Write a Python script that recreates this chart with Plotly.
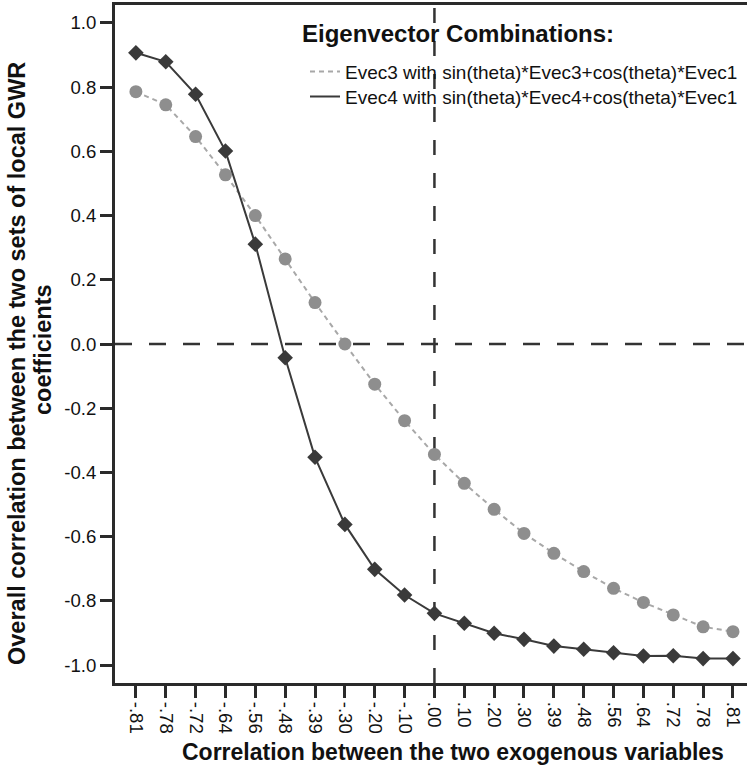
import plotly.graph_objects as go

categories = ["-.81", "-.78", "-.72", "-.64", "-.56", "-.48", "-.39", "-.30", "-.20", "-.10",
              ".00", ".10", ".20", ".30", ".39", ".48", ".56", ".64", ".72", ".78", ".81"]

evec3 = [0.786, 0.745, 0.646, 0.527, 0.400, 0.265, 0.129, 0.000, -0.125, -0.239,
         -0.344, -0.434, -0.515, -0.590, -0.652, -0.709, -0.761, -0.805, -0.844, -0.881, -0.896]

evec4 = [0.907, 0.879, 0.778, 0.601, 0.311, -0.043, -0.353, -0.562, -0.702, -0.782,
         -0.839, -0.870, -0.901, -0.920, -0.941, -0.951, -0.962, -0.972, -0.971, -0.980, -0.980]

series_names = ["Evec3 with sin(theta)*Evec3+cos(theta)*Evec1",
                "Evec4 with sin(theta)*Evec4+cos(theta)*Evec1"]

y_tickvals = [1.0, 0.8, 0.6, 0.4, 0.2, 0.0, -0.2, -0.4, -0.6, -0.8, -1.0]
y_ticktext = ["1.0", "0.8", "0.6", "0.4", "0.2", "0.0", "-0.2", "-0.4", "-0.6", "-0.8", "-1.0"]

FONT = "Liberation Sans, Arial, Helvetica, sans-serif"
DARK = "#3a3a3a"
GRAY_M = "#8e8e8e"
GRAY_L = "#a8a8a8"
TXT = "#111111"

fig = go.Figure()

fig.add_trace(go.Scatter(
    x=categories, y=evec3, mode="lines+markers", showlegend=False,
    line=dict(color=GRAY_L, width=2, dash="5px,4px"),
    marker=dict(symbol="circle", size=13, color=GRAY_M),
))
fig.add_trace(go.Scatter(
    x=categories, y=evec4, mode="lines+markers", showlegend=False,
    line=dict(color=DARK, width=2),
    marker=dict(symbol="diamond", size=12, color=DARK),
))

# legend-only entries (line samples), one legend each for exact placement
fig.add_trace(go.Scatter(
    x=[None], y=[None], mode="lines", name=series_names[0], legend="legend",
    line=dict(color=GRAY_L, width=2, dash="5px,4px"),
))
fig.add_trace(go.Scatter(
    x=[None], y=[None], mode="lines", name=series_names[1], legend="legend2",
    line=dict(color=DARK, width=2),
))

# reference lines
fig.add_hline(y=0, line=dict(color="#333333", width=2.5, dash="17px,17px"), layer="below")
fig.add_vline(x=categories.index(".00"), line=dict(color="#333333", width=2.5, dash="15px,18px"),
              layer="below")

# legend heading
fig.add_annotation(
    text="<b>Eigenvector Combinations:</b>", xref="paper", yref="paper",
    x=(300 - 115) / 632, y=(683 - 33) / 678, xanchor="left", yanchor="middle", showarrow=False,
    font=dict(family=FONT, size=24, color=TXT),
)

# axis titles
fig.add_annotation(
    text="<b>Correlation between the two exogenous variables</b>", xref="paper", yref="paper",
    x=(453 - 115) / 632, y=(683 - 752) / 678, xanchor="center", yanchor="middle", showarrow=False,
    font=dict(family=FONT, size=23, color=TXT),
)
fig.add_annotation(
    text="<b>Overall correlation between the two sets of local GWR</b>", xref="paper", yref="paper",
    x=(16.5 - 115) / 632, y=(683 - 363.5) / 678, xanchor="center", yanchor="middle", showarrow=False,
    textangle=-90, font=dict(family=FONT, size=23.5, color=TXT),
)
fig.add_annotation(
    text="<b>coefficients</b>", xref="paper", yref="paper",
    x=(43 - 115) / 632, y=(683 - 350) / 678, xanchor="center", yanchor="middle", showarrow=False,
    textangle=-90, font=dict(family=FONT, size=23.5, color=TXT),
)

legend_common = dict(
    xanchor="left", yanchor="middle", bgcolor="rgba(0,0,0,0)",
    font=dict(family=FONT, size=19, color=TXT),
)

fig.update_layout(
    width=747, height=765,
    margin=dict(l=115, r=0, t=5, b=82),
    paper_bgcolor="white", plot_bgcolor="white",
    font=dict(family=FONT, color=TXT),
    showlegend=True,
    legend=dict(x=(305 - 115) / 632, y=(683 - 71.7) / 678, **legend_common),
    legend2=dict(x=(305 - 115) / 632, y=(683 - 96.7) / 678, **legend_common),
    xaxis=dict(
        type="category", categoryorder="array", categoryarray=categories,
        range=[-0.7, 20.47],
        showgrid=False, zeroline=False,
        showline=True, linecolor="#2a2a2a", linewidth=3, mirror=True,
        ticks="outside", ticklen=12, tickwidth=3, tickcolor="#2a2a2a",
        tickangle=90, tickfont=dict(family=FONT, size=18.6, color=TXT),
    ),
    yaxis=dict(
        range=[-1.056, 1.056],
        tickvals=y_tickvals, ticktext=y_ticktext,
        showgrid=False, zeroline=False,
        showline=True, linecolor="#2a2a2a", linewidth=3, mirror=False,
        ticks="outside", ticklen=12, tickwidth=3, tickcolor="#2a2a2a",
        tickfont=dict(family=FONT, size=18.6, color=TXT),
    ),
)

fig.write_html("out.html")
